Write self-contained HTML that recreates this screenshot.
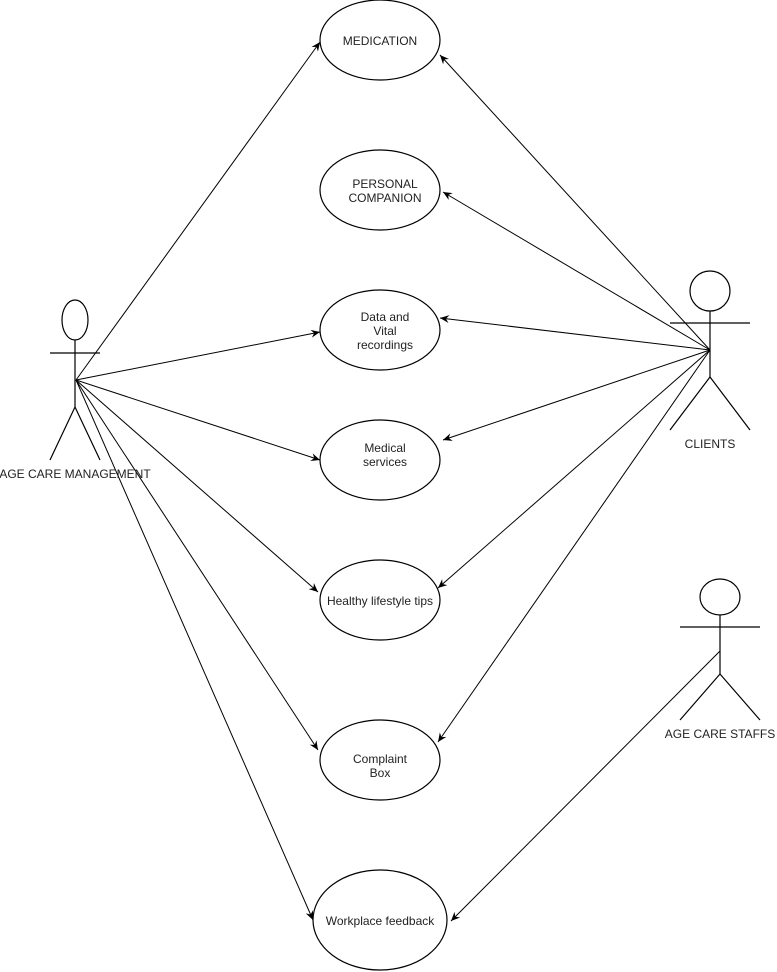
<!DOCTYPE html>
<html><head><style>body{margin:0;background:#fff}svg{display:block}text{font-family:"Liberation Sans",Arial,sans-serif;font-size:12px;fill:#222}</style></head>
<body>
<svg width="777" height="972" viewBox="0 0 777 972" xmlns="http://www.w3.org/2000/svg">
<defs><marker id="a" markerWidth="10" markerHeight="10" refX="9" refY="5" orient="auto" markerUnits="userSpaceOnUse"><path d="M0,1 L9,5 L0,9 L3,5 Z" fill="#000"/></marker></defs>
<g fill="#fff" stroke="#000" stroke-width="1.2">
<ellipse cx="380" cy="40" rx="60" ry="40"/>
<ellipse cx="380" cy="190" rx="60" ry="40"/>
<ellipse cx="380" cy="330" rx="60" ry="40"/>
<ellipse cx="380" cy="460" rx="60" ry="40"/>
<ellipse cx="380" cy="600" rx="60" ry="40"/>
<ellipse cx="380" cy="760" rx="60" ry="40"/>
<ellipse cx="380" cy="920" rx="67" ry="50"/>
</g>
<g stroke="#000" stroke-width="1.2" fill="none">
<ellipse cx="75" cy="320" rx="13" ry="20"/>
<line x1="50" y1="353" x2="100" y2="353"/><line x1="75" y1="340" x2="75" y2="407"/>
<polyline points="50,460 75,407 100,460"/>
<circle cx="710" cy="291" r="20"/>
<line x1="670" y1="323" x2="750" y2="323"/><line x1="710" y1="311" x2="710" y2="377"/>
<polyline points="670,430 710,377 750,430"/>
<ellipse cx="720" cy="597" rx="20" ry="18"/>
<line x1="680" y1="627" x2="760" y2="627"/><line x1="720" y1="615" x2="720" y2="674"/>
<polyline points="680,720 720,674 760,720"/>
</g>
<g stroke="#000" stroke-width="1" marker-end="url(#a)">
<line x1="76" y1="380" x2="320" y2="42"/>
<line x1="76" y1="380" x2="320" y2="332"/>
<line x1="76" y1="380" x2="320" y2="460"/>
<line x1="76" y1="380" x2="318" y2="592"/>
<line x1="76" y1="380" x2="318" y2="750"/>
<line x1="76" y1="380" x2="313" y2="920"/>
<line x1="710" y1="350" x2="440" y2="55"/>
<line x1="710" y1="350" x2="443" y2="192"/>
<line x1="710" y1="350" x2="440" y2="318"/>
<line x1="710" y1="350" x2="443" y2="440"/>
<line x1="710" y1="350" x2="438" y2="588"/>
<line x1="710" y1="350" x2="438" y2="742"/>
<line x1="720" y1="651" x2="451" y2="921"/>
</g>
<g text-anchor="middle">
<text x="380" y="45">MEDICATION</text>
<text x="385" y="188">PERSONAL</text><text x="385" y="202">COMPANION</text>
<text x="385" y="321">Data and</text><text x="385" y="335">Vital</text><text x="385" y="349">recordings</text>
<text x="385" y="452">Medical</text><text x="385" y="466">services</text>
<text x="380" y="605">Healthy lifestyle tips</text>
<text x="380" y="763">Complaint</text><text x="380" y="777">Box</text>
<text x="380" y="925">Workplace feedback</text>
<text x="75" y="478">AGE CARE MANAGEMENT</text>
<text x="710" y="448">CLIENTS</text>
<text x="720" y="738">AGE CARE STAFFS</text>
</g>
</svg>
</body></html>
